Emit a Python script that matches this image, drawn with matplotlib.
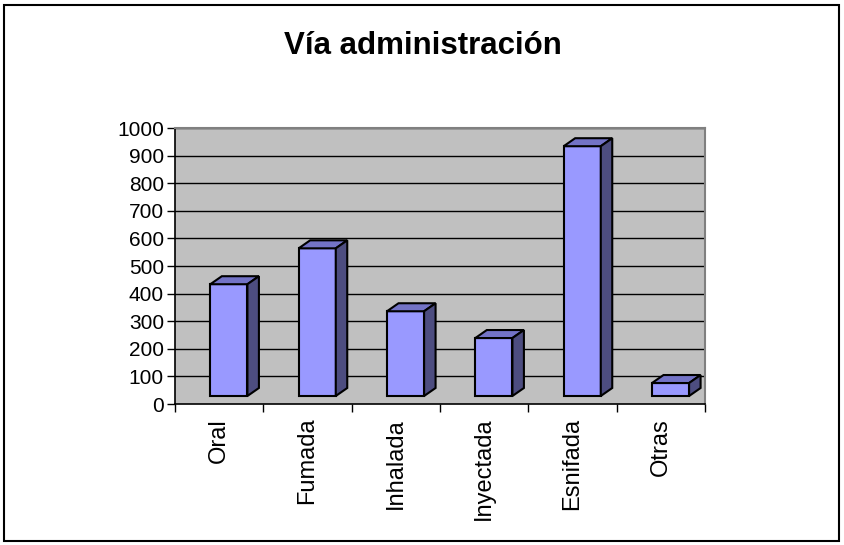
import matplotlib.pyplot as plt
from matplotlib.patches import Polygon, Rectangle

# Datos del gráfico
categorias = ['Oral', 'Fumada', 'Inhalada', 'Inyectada', 'Esnifada', 'Otras']
valores = [405, 535, 307, 210, 905, 47]
ticks_y = [0, 100, 200, 300, 400, 500, 600, 700, 800, 900, 1000]

plt.rcParams['font.family'] = ['Liberation Sans', 'DejaVu Sans']

fig = plt.figure(figsize=(8.44, 5.45), dpi=100)
ax = fig.add_axes([175 / 844, 141 / 545, 530 / 844, 276 / 545])
ax.set_facecolor('#C0C0C0')

# borde exterior del gráfico
fig.patches.append(Rectangle((4 / 844, 4 / 545), 835 / 844, 536 / 545,
                             transform=fig.transFigure, fill=False,
                             edgecolor='black', linewidth=1.5))

# efecto 3D tipo Excel: profundidad en x (categorías) y en y (valores)
dx = 0.13
dy = 29
ancho = 0.42
inicio = 0.40

for v in ticks_y[1:]:
    ax.axhline(v, color='black', linewidth=1, zorder=1)

for i, v in enumerate(valores):
    x0 = i + inicio
    x1 = x0 + ancho
    ax.bar(x0, v, width=ancho, bottom=dy, align='edge', color='#9999FF',
           edgecolor='black', linewidth=1.5, zorder=3)
    top = dy + v
    ax.add_patch(Polygon([(x0, top), (x1, top), (x1 + dx, top + dy), (x0 + dx, top + dy)],
                         closed=True, facecolor='#7373C6', edgecolor='black',
                         linewidth=1.5, zorder=3))
    ax.add_patch(Polygon([(x1, dy), (x1 + dx, 2 * dy), (x1 + dx, top + dy), (x1, top)],
                         closed=True, facecolor='#4D4D80', edgecolor='black',
                         linewidth=1.5, zorder=3))

ax.set_xlim(0, len(categorias))
ax.set_ylim(0, 1000)
ax.set_yticks(ticks_y)
ax.set_yticklabels([str(t) for t in ticks_y], fontsize=15)
ax.set_xticks(range(len(categorias) + 1))
ax.set_xticklabels([])
ax.tick_params(axis='y', direction='out', length=6, width=1, pad=2)
ax.tick_params(axis='x', direction='out', length=6, width=1)

for i, c in enumerate(categorias):
    ax.text(i + 0.5, -0.05, c, transform=ax.get_xaxis_transform(), rotation=90,
            ha='center', va='top', fontsize=17)

for s in ['top', 'right']:
    ax.spines[s].set_color('#808080')
    ax.spines[s].set_linewidth(1.5)
for s in ['left', 'bottom']:
    ax.spines[s].set_color('black')
    ax.spines[s].set_linewidth(1.2)

fig.text(423 / 844, 1 - 46 / 545, 'Vía administración', ha='center', va='center',
         fontsize=22.5, fontweight='bold')

fig.savefig('out.png', dpi=100)
